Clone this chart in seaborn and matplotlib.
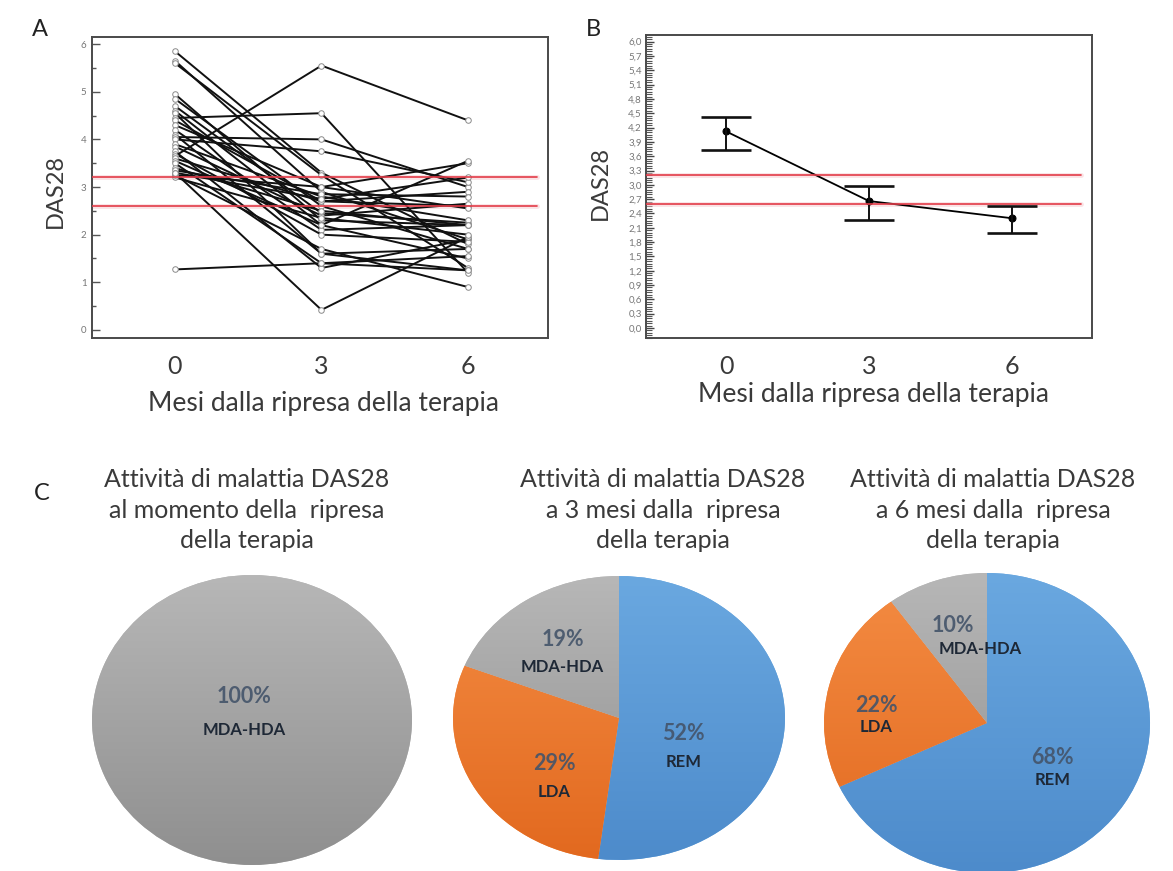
import numpy as np
import pandas as pd
import matplotlib
matplotlib.use("Agg")
import matplotlib.pyplot as plt
import seaborn as sns
from matplotlib.ticker import MultipleLocator, FuncFormatter
from matplotlib.colors import LinearSegmentedColormap

# Months since therapy was restarted
months = [0, 3, 6]

# DAS28 for each patient at 0, 3 and 6 months
das_0m = [5.85, 5.65, 5.60, 4.95, 4.85, 4.70, 4.60, 4.55, 4.45, 4.40, 4.30,
          4.20, 4.10, 4.05, 4.00, 3.90, 3.85, 3.75, 3.70, 3.65, 3.60, 3.55,
          3.50, 3.40, 3.35, 3.30, 3.25, 3.20, 3.25, 3.30, 1.27]
das_3m = [3.30, 2.90, 3.25, 2.30, 2.60, 2.45, 2.20, 1.60, 4.55, 2.70, 3.00,
          2.10, 1.60, 4.00, 3.75, 2.80, 2.40, 1.30, 2.00, 5.55, 2.70, 2.20,
          1.40, 2.50, 2.85, 0.42, 1.70, 2.35, 3.00, 2.75, 1.40]
das_6m = [1.80, 1.90, 1.30, 2.20, 1.70, 2.25, 1.50, 1.25, 1.20, 2.60, 3.50,
          2.20, 1.70, 3.00, 3.10, 2.30, 2.65, 1.90, 1.85, 4.40, 2.90, 3.55,
          1.55, 2.20, 2.80, 1.95, 0.90, 2.00, 2.55, 3.20, 1.25]

# Group mean DAS28 with interval bounds
mean_das = [4.12, 2.66, 2.30]
low_das = [3.73, 2.26, 1.99]
high_das = [4.42, 2.98, 2.56]

# Disease-activity thresholds
thr_high = 3.2
thr_rem = 2.6

# Disease-activity classes (percent of patients)
activity_classes = ["REM", "LDA", "MDA-HDA"]
pct_0m = [0, 0, 100]
pct_3m = [52, 29, 19]
pct_6m = [68, 22, 10]

pie_titles = [
    "Attività di malattia DAS28\nal momento della  ripresa\ndella terapia",
    "Attività di malattia DAS28\na 3 mesi dalla  ripresa\ndella terapia",
    "Attività di malattia DAS28\na 6 mesi dalla  ripresa\ndella terapia",
]

xlabel_txt = "Mesi dalla ripresa della terapia"

sns.set_theme(style="white")
plt.rcParams["font.family"] = ["Lato", "DejaVu Sans"]

W, H = 1173, 871
fig = plt.figure(figsize=(W / 100, H / 100), dpi=100)


def px_axes(left, top, right, bottom):
    return fig.add_axes([left / W, 1 - bottom / H, (right - left) / W, (bottom - top) / H])


text_dark = "#3a3a3a"
red = "#e23b48"

# ---------------- Panel A: individual trajectories ----------------
axA = px_axes(92, 37, 548, 338)
df = pd.DataFrame({
    "paziente": np.repeat(np.arange(len(das_0m)), len(months)),
    "mese": np.tile(months, len(das_0m)),
    "das28": np.column_stack([das_0m, das_3m, das_6m]).ravel(),
})
sns.lineplot(data=df, x="mese", y="das28", units="paziente", estimator=None,
             color="#111111", lw=1.4, marker="o", markersize=4,
             markerfacecolor="white", markeredgecolor="#8a8a8a",
             markeredgewidth=0.7, ax=axA, legend=False, zorder=3)

# ---------------- Panel B: mean with interval ----------------
axB = px_axes(646, 35, 1092, 338)
sns.lineplot(x=months, y=mean_das, color="black", lw=1.3, marker="o",
             markersize=5, markeredgecolor="black", ax=axB, zorder=3)
m = np.array(mean_das)
axB.errorbar(months, mean_das, yerr=[m - np.array(low_das), np.array(high_das) - m],
             fmt="none", ecolor="#111111", elinewidth=1.4, capsize=18, capthick=1.9,
             zorder=3)

for ax in (axA, axB):
    for thr in (thr_high, thr_rem):
        ax.axhline(thr, xmin=0, xmax=0.975, color="#f6c9cd", lw=3.5, alpha=0.5, zorder=1)
        ax.axhline(thr, xmin=0, xmax=0.975, color=red, lw=1.2, zorder=4)
    for s in ax.spines.values():
        s.set_color("#4a4a4a")
        s.set_linewidth(1.4)
    ax.set_xticks(months)
    ax.set_xticklabels([str(v) for v in months])
    ax.tick_params(axis="x", direction="in", length=8, width=1.2, color="#4a4a4a",
                   pad=12, labelsize=18, labelcolor=text_dark)
    ax.set_ylabel("DAS28", fontsize=17, color=text_dark)
    ax.set_xlabel(xlabel_txt, fontsize=19, color=text_dark)

axA.set_xlim(-1.70, 7.64)
axA.set_ylim(-0.17, 6.15)
axA.yaxis.set_major_locator(MultipleLocator(1))
axA.yaxis.set_minor_locator(MultipleLocator(0.5))
axA.tick_params(axis="y", which="major", direction="in", length=6, width=1,
                color="#555", labelsize=7, labelcolor="#777", pad=4, left=True)
axA.tick_params(axis="y", which="minor", direction="in", length=3, width=1,
                color="#555", left=True)
axA.yaxis.set_label_coords(-0.057, 0.49)
axA.xaxis.set_label_coords(0.507, -0.175)

axB.set_xlim(-1.68, 7.68)
axB.set_ylim(-0.21, 6.14)
axB.yaxis.set_major_locator(MultipleLocator(0.3))
axB.yaxis.set_minor_locator(MultipleLocator(0.05))
axB.yaxis.set_major_formatter(FuncFormatter(lambda v, p: f"{v:.1f}".replace(".", ",")))
axB.tick_params(axis="y", which="major", direction="in", length=6, width=1,
                color="#444", labelsize=7, labelcolor="#777", pad=3, left=True)
axB.tick_params(axis="y", which="minor", direction="in", length=4, width=0.8,
                color="#555", left=True)
axB.yaxis.set_label_coords(-0.078, 0.51)
axB.xaxis.set_label_coords(0.511, -0.145)

fig.text(40 / W, 1 - 29 / H, "A", fontsize=17, color="#222", ha="center", va="center")
fig.text(593 / W, 1 - 29 / H, "B", fontsize=17, color="#222", ha="center", va="center")
fig.text(42 / W, 1 - 493 / H, "C", fontsize=17, color="#222", ha="center", va="center")

# ---------------- Panel C: activity class pies ----------------
class_colors = {
    "REM": ("#6aa8e0", "#4d8bcb"),
    "LDA": ("#f48c43", "#e2691f"),
    "MDA-HDA": ("#b7b7b7", "#8f8f8f"),
}

pie_boxes = [(92, 575, 412, 865), (453, 576, 785, 860), (824, 573, 1150, 873)]
title_x = [247, 663, 993]
pies = [pct_0m, pct_3m, pct_6m]

# label anchor points inside each pie (pie-data coordinates): pct text, class text
label_pos = [
    {"MDA-HDA": ((-0.05, 0.16), (-0.05, -0.07))},
    {"MDA-HDA": ((-0.34, 0.55), (-0.34, 0.36)),
     "LDA": ((-0.39, -0.32), (-0.39, -0.52)),
     "REM": ((0.39, -0.11), (0.39, -0.31))},
    {"MDA-HDA": ((-0.21, 0.65), (-0.04, 0.49)),
     "LDA": ((-0.68, 0.12), (-0.68, -0.03)),
     "REM": ((0.40, -0.23), (0.40, -0.38))},
]

grad = np.linspace(0, 1, 256).reshape(-1, 1)
for box, pct, tx, title, lp in zip(pie_boxes, pies, title_x, pie_titles, label_pos):
    ax = px_axes(*box)
    wedges, _ = ax.pie(pct, colors=[class_colors[c][0] for c in activity_classes],
                       startangle=90, counterclock=False,
                       wedgeprops=dict(linewidth=0))
    ax.set_aspect("auto")
    ax.axis("off")
    for w, cls, v in zip(wedges, activity_classes, pct):
        if v <= 0:
            continue
        top_c, bot_c = class_colors[cls]
        cmap = LinearSegmentedColormap.from_list(cls, [bot_c, top_c])
        im = ax.imshow(grad, extent=[-1, 1, -1, 1], origin="lower", cmap=cmap,
                       aspect="auto", zorder=2)
        im.set_clip_path(w)
        (px_, py_), (cx_, cy_) = lp[cls]
        ax.text(px_, py_, f"{v}%", ha="center", va="center", fontsize=15.5,
                fontweight="bold", color="#44546a", alpha=0.9, zorder=5)
        ax.text(cx_, cy_, cls, ha="center", va="center", fontsize=12,
                fontweight="bold", color="#1e2836", zorder=5)
    ax.set_xlim(-1, 1)
    ax.set_ylim(-1, 1)
    fig.text(tx / W, 1 - 510 / H, title, ha="center", va="center",
             multialignment="center", fontsize=18, color=text_dark,
             linespacing=1.42)

fig.savefig("out.png", dpi=100)
